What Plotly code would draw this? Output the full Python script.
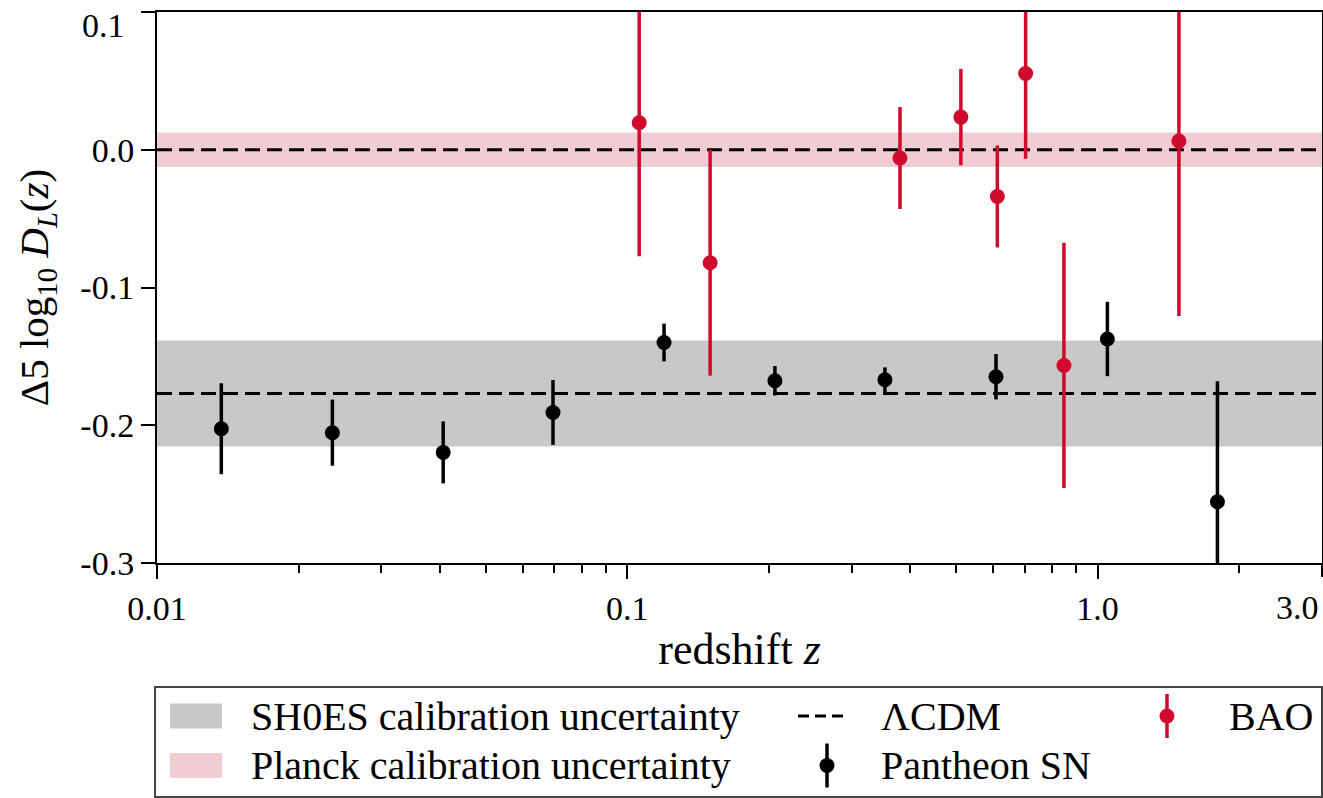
import numpy as np
import plotly.graph_objects as go

# ---------------- data ----------------
sn_z = [0.0137, 0.0236, 0.0406, 0.0695, 0.1197, 0.206, 0.353, 0.608, 1.049, 1.798]
sn_val = [-0.2025, -0.2054, -0.2197, -0.1907, -0.1399, -0.1677, -0.1670, -0.1648, -0.1374, -0.2555]
sn_err = [0.033, 0.024, 0.0225, 0.0236, 0.0137, 0.0107, 0.0090, 0.0165, 0.027, 0.0875]

bao_z = [0.106, 0.150, 0.380, 0.512, 0.612, 0.703, 0.848, 1.489]
bao_val = [0.0196, -0.0820, -0.0060, 0.0237, -0.0339, 0.0554, -0.1566, 0.0063]
bao_err = [0.097, 0.082, 0.037, 0.035, 0.037, 0.062, 0.089, 0.127]

lcdm_levels = [0.0, -0.177]
planck_center, planck_half = 0.0, 0.0125
shoes_center, shoes_half = -0.177, 0.0385

x_range = [0.01, 3.0]
y_range = [-0.3, 0.1]
x_tickvals = [0.01, 0.1, 1.0, 3.0]
x_ticktext = ["0.01", "0.1", "1.0", "3.0"]
y_tickvals = [-0.3, -0.2, -0.1, 0.0, 0.1]
y_ticktext = ["-0.3", "-0.2", "-0.1", "0.0", "0.1"]
x_minor = [m * 10.0 ** e for e in (-2, -1, 0) for m in range(2, 10) if m * 10.0 ** e < 3.0]

legend_labels = {
    "shoes": "SH0ES calibration uncertainty",
    "planck": "Planck calibration uncertainty",
    "lcdm": "ΛCDM",
    "sn": "Pantheon SN",
    "bao": "BAO",
}

RED = "#CF0A2C"
PINK = "#F2CCD3"
GREY = "#C8C8C8"
FONT = "Liberation Serif"

W, H = 1323, 798
ML, MR, MT, MB = 157, 1, 12, 235
PW, PH = W - ML - MR, H - MT - MB


def px(x):
    return (x - ML) / PW


def py(y):
    return (MT + PH - y) / PH


fig = go.Figure()

# calibration bands
fig.add_shape(type="rect", xref="x domain", yref="y", x0=0, x1=1,
              y0=shoes_center - shoes_half, y1=shoes_center + shoes_half,
              fillcolor=GREY, line=dict(width=0), layer="below")
fig.add_shape(type="rect", xref="x domain", yref="y", x0=0, x1=1,
              y0=planck_center - planck_half, y1=planck_center + planck_half,
              fillcolor=PINK, line=dict(width=0), layer="below")

# LCDM dashed lines
lx, ly = [], []
for lv in lcdm_levels:
    lx += [x_range[0], x_range[1], None]
    ly += [lv, lv, None]
fig.add_trace(go.Scatter(x=lx, y=ly, mode="lines", name=legend_labels["lcdm"],
                         line=dict(color="black", width=3, dash="15px,7px"),
                         showlegend=False, hoverinfo="skip"))

fig.add_trace(go.Scatter(x=sn_z, y=sn_val, mode="markers", name=legend_labels["sn"],
                         marker=dict(color="black", size=15),
                         error_y=dict(type="data", array=sn_err, color="black",
                                      thickness=3.5, width=0),
                         showlegend=False))

fig.add_trace(go.Scatter(x=bao_z, y=bao_val, mode="markers", name=legend_labels["bao"],
                         marker=dict(color=RED, size=15),
                         error_y=dict(type="data", array=bao_err, color=RED,
                                      thickness=3.5, width=0),
                         showlegend=False))

# ---------------- legend (drawn below the axes) ----------------
shapes = []
annots = []
# frame
shapes.append(dict(type="rect", xref="paper", yref="paper",
                   x0=px(155), x1=px(1322), y0=py(797), y1=py(687),
                   line=dict(color="#444444", width=2), fillcolor="rgba(0,0,0,0)"))
# swatches
for (yc, col) in [(716, GREY), (765.5, PINK)]:
    shapes.append(dict(type="rect", xref="paper", yref="paper",
                       x0=px(170), x1=px(222), y0=py(yc + 12.5), y1=py(yc - 12.5),
                       fillcolor=col, line=dict(width=0)))
# dashed sample
shapes.append(dict(type="line", xref="paper", yref="paper",
                   x0=px(798), x1=px(848), y0=py(716), y1=py(716),
                   line=dict(color="black", width=3, dash="11px,6px")))
# marker samples with error bars
for (xc, yc, col) in [(827, 765.5, "black"), (1167, 716, RED)]:
    shapes.append(dict(type="line", xref="paper", yref="paper",
                       x0=px(xc), x1=px(xc), y0=py(yc + 22), y1=py(yc - 22),
                       line=dict(color=col, width=3.5)))
    shapes.append(dict(type="circle", xref="paper", yref="paper",
                       x0=px(xc - 7.5), x1=px(xc + 7.5), y0=py(yc + 7.5), y1=py(yc - 7.5),
                       fillcolor=col, line=dict(width=0)))

for key, x0, yc in [("shoes", 249, 716), ("planck", 249, 765.5),
                    ("lcdm", 879, 716), ("sn", 879, 765.5), ("bao", 1227, 716)]:
    annots.append(dict(text=legend_labels[key], xref="paper", yref="paper",
                       x=px(x0), y=py(yc), xanchor="left", yanchor="middle",
                       showarrow=False, font=dict(family=FONT, size=40, color="black")))

# edge tick labels kept inside the page (as in the reference)
annots.append(dict(text=y_ticktext[-1], xref="paper", yref="y",
                   x=px(127), y=y_tickvals[-1], yshift=-13,
                   xanchor="right", yanchor="middle", showarrow=False,
                   font=dict(family=FONT, size=34, color="black")))
annots.append(dict(text=x_ticktext[-1], xref="paper", yref="paper",
                   x=px(1321), y=py(607), xanchor="right", yanchor="middle",
                   showarrow=False, font=dict(family=FONT, size=34, color="black")))
# major tick mark at the right end of the x axis
shapes.append(dict(type="line", xref="x domain", yref="paper",
                   x0=1, x1=1, y0=0, y1=-14 / PH,
                   line=dict(color="black", width=2)))

for s in shapes:
    fig.add_shape(**s)

fig.update_layout(
    width=W, height=H,
    margin=dict(l=ML, r=MR, t=MT, b=MB, autoexpand=False),
    paper_bgcolor="white", plot_bgcolor="white",
    font=dict(family=FONT, size=34, color="black"),
    showlegend=False,
    annotations=annots,
)

fig.update_xaxes(type="log", range=[np.log10(x_range[0]), np.log10(x_range[1])],
                 automargin=False,
                 tickvals=x_tickvals[:-1], ticktext=x_ticktext[:-1],
                 ticks="outside", ticklen=14, tickwidth=2, tickcolor="black",
                 showline=True, linewidth=2, linecolor="black", mirror=True,
                 showgrid=False, zeroline=False,
                 tickfont=dict(family=FONT, size=34),
                 ticklabelstandoff=0, ticklabeloverflow="allow",
                 minor=dict(tickvals=x_minor, ticks="outside", ticklen=8,
                            tickwidth=2, tickcolor="black", showgrid=False),
                 title=dict(text="redshift <i>z</i>", font=dict(family=FONT, size=44),
                            standoff=7))

fig.update_yaxes(range=y_range, tickvals=y_tickvals[:-1], ticktext=y_ticktext[:-1],
                 automargin=False,
                 ticks="outside", ticklen=14, tickwidth=2, tickcolor="black",
                 showline=True, linewidth=2, linecolor="black", mirror=True,
                 showgrid=False, zeroline=False,
                 tickfont=dict(family=FONT, size=34),
                 ticklabelstandoff=0, ticklabeloverflow="allow",
                 minor=dict(tickvals=[y_tickvals[-1]], ticks="outside", ticklen=14,
                            tickwidth=2, tickcolor="black", showgrid=False),
                 title=dict(text="Δ5 log<sub>10</sub> <i>D<sub>L</sub></i>(<i>z</i>)",
                            font=dict(family=FONT, size=41), standoff=19))

fig.write_html("out.html")
